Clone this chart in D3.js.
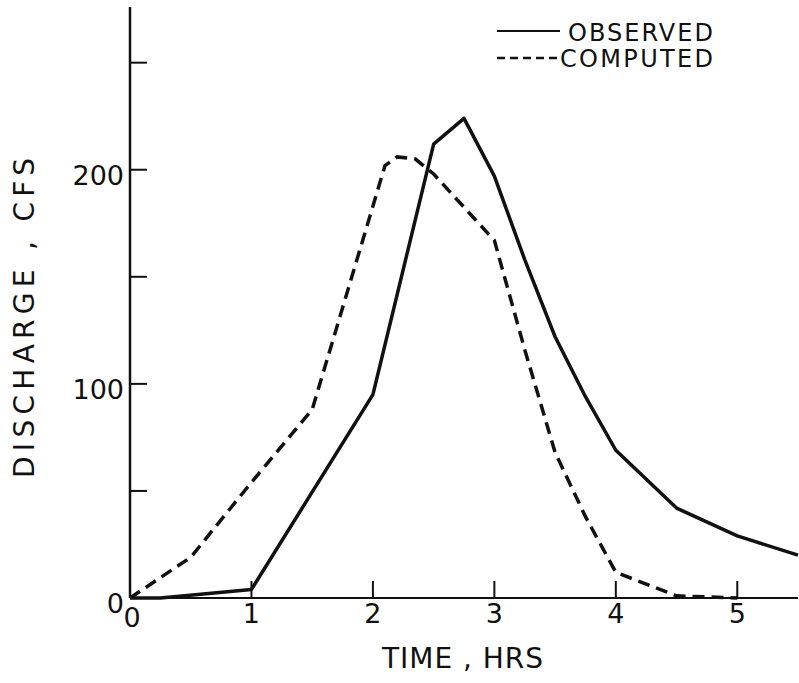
<!DOCTYPE html>
<html lang="en">
<head>
  <meta charset="UTF-8">
  <title>Discharge hydrograph</title>
  <style>
    body { margin: 0; background: #fff; }
    text { font-family: 'DejaVu Sans', sans-serif; fill: #111; }
    .tickLabel { font-size: 27px; }
    .axisTitle { font-size: 28px; }
    .legendText { font-size: 24px; }
    .axisLine { stroke: #111; stroke-width: 2.5px; fill: none; }
    .tick { stroke: #111; stroke-width: 2px; }
    .observed { fill: none; stroke: #111; stroke-width: 3.5px; stroke-linejoin: round; }
    .computed { fill: none; stroke: #111; stroke-width: 3.5px; stroke-dasharray: 12, 7; }
  </style>
  <script src="https://cdn.jsdelivr.net/npm/d3@7/dist/d3.min.js"></script>
</head>
<body>
  <div class="container"></div>
<script>
  // observed hydrograph (hrs, cfs)
  var obsTime = [0, 0.25, 1, 2, 2.5, 2.75, 3, 3.25, 3.5, 3.75, 4, 4.5, 5, 5.5];
  var obsFlow = [0, 0, 4, 95, 212, 224, 197, 158, 122, 94, 69, 42, 29, 20];
  // computed hydrograph
  var compTime = [0, 0.5, 1, 1.5, 2.1, 2.2, 2.35, 2.5, 3, 3.25, 3.5, 3.75, 4, 4.5, 5];
  var compFlow = [0, 19, 54, 88, 202, 206, 205, 198, 167, 116, 68, 38, 12, 1, 0];

  var xTicks = [1, 2, 3, 4, 5];
  var xTickLabels = ['0', '1', '2', '3', '4', '5'];
  var yTicks = [50, 100, 150, 200, 250];
  var yTickLabels = [0, 100, 200];
  var legendNames = ['OBSERVED', 'COMPUTED'];

  var svgWidth = 799, svgHeight = 683;
  var svg = d3.select('.container')
              .append('svg')
              .attr('width', svgWidth)
              .attr('height', svgHeight);

  var x = d3.scaleLinear().domain([0, 5.5]).range([130, 798]);
  var y = d3.scaleLinear().domain([0, 276]).range([598, 7]);

  // axes lines
  svg.append('line').attr('class', 'axisLine')
     .attr('x1', x(0)).attr('x2', x(0)).attr('y1', y(276)).attr('y2', y(0));
  svg.append('line').attr('class', 'axisLine')
     .attr('x1', x(0)).attr('x2', x(5.5)).attr('y1', y(0)).attr('y2', y(0))
     .style('stroke-width', '2px');

  // ticks
  svg.append('g').selectAll('line')
     .data(xTicks).enter().append('line')
     .attr('class', 'tick')
     .attr('x1', d => x(d)).attr('x2', d => x(d))
     .attr('y1', y(0)).attr('y2', y(0) - 17);
  svg.append('g').selectAll('line')
     .data(yTicks).enter().append('line')
     .attr('class', 'tick')
     .attr('x1', x(0)).attr('x2', x(0) + 17)
     .attr('y1', d => y(d)).attr('y2', d => y(d));

  // tick labels
  svg.append('g').selectAll('text')
     .data(xTickLabels).enter().append('text')
     .attr('class', 'tickLabel')
     .attr('x', d => x(+d) + (d === '0' ? 2 : 0))
     .attr('y', d => y(0) + (d === '0' ? 29 : 25))
     .style('text-anchor', 'middle')
     .text(d => d);
  svg.append('g').selectAll('text')
     .data(yTickLabels).enter().append('text')
     .attr('class', 'tickLabel')
     .attr('x', x(0) - 6)
     .attr('y', d => y(d) + 15)
     .style('text-anchor', 'end')
     .text(d => d);

  // axis titles
  svg.append('text')
     .attr('class', 'axisTitle')
     .attr('x', 382).attr('y', 668)
     .attr('textLength', 161).attr('lengthAdjust', 'spacing')
     .text('TIME , HRS');
  svg.append('g')
     .attr('transform', 'translate(34,318)')
     .append('text')
     .attr('class', 'axisTitle')
     .attr('transform', 'rotate(270)')
     .attr('x', -160).attr('y', 0)
     .attr('textLength', 320).attr('lengthAdjust', 'spacing')
     .text('DISCHARGE , CFS');

  // curves
  var line = d3.line().x(d => x(d[0])).y(d => y(d[1]));
  svg.append('path').attr('class', 'observed')
     .attr('d', line(obsTime.map((t, i) => [t, obsFlow[i]])));
  svg.append('path').attr('class', 'computed')
     .attr('d', line(compTime.map((t, i) => [t, compFlow[i]])));

  // legend
  var legend = svg.append('g');
  legend.append('line').attr('x1', 497).attr('x2', 560).attr('y1', 31).attr('y2', 31)
        .style('stroke', '#111').style('stroke-width', '2px');
  legend.append('line').attr('x1', 497).attr('x2', 558).attr('y1', 58).attr('y2', 58)
        .style('stroke', '#111').style('stroke-width', '2.5px')
        .style('stroke-dasharray', '8,5');
  legend.append('text').attr('class', 'legendText')
        .attr('x', 568).attr('y', 41)
        .attr('textLength', 145).attr('lengthAdjust', 'spacing')
        .text(legendNames[0]);
  legend.append('text').attr('class', 'legendText')
        .attr('x', 560).attr('y', 67)
        .attr('textLength', 153).attr('lengthAdjust', 'spacing')
        .text(legendNames[1]);
</script>
</body>
</html>
